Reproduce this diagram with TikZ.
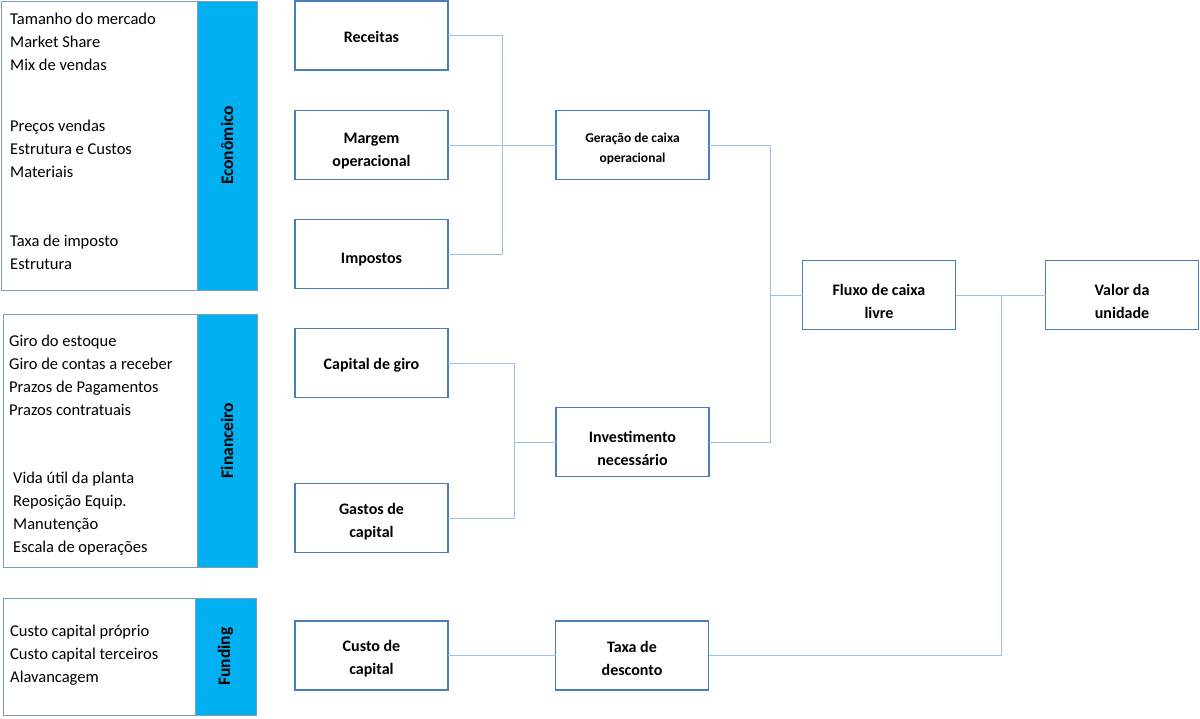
\documentclass[tikz,border=0pt]{standalone}
\usepackage{fontspec}
\setmainfont{Carlito}
\begin{document}
\begin{tikzpicture}[x=1pt,y=-1pt,
  box/.style={draw=boxblue,line width=1.4pt,fill=white,minimum width=153pt,minimum height=69pt,inner sep=0pt,outer sep=0pt},
  btxt/.style={align=center,inner sep=0pt,font=\fontsize{16}{23}\selectfont\bfseries},
  stxt/.style={btxt,font=\fontsize{13.5}{20}\selectfont\bfseries},
  panel/.style={draw=panelgray,line width=0.8pt,fill=white,inner sep=0pt,outer sep=0pt},
  bar/.style={draw=panelgray,line width=0.8pt,fill=barblue,inner sep=0pt,outer sep=0pt},
  barlabel/.style={rotate=90,font=\fontsize{17.5}{20}\selectfont\bfseries},
  list/.style={anchor=north west,align=left,inner sep=0pt,font=\fontsize{16.5}{23}\selectfont},
  conn/.style={draw=lineblue,line width=1pt}]
\definecolor{boxblue}{HTML}{4A7EBB}
\definecolor{lineblue}{HTML}{9BC2E6}
\definecolor{barblue}{HTML}{00B0F0}
\definecolor{panelgray}{HTML}{7F9DB9}
\useasboundingbox (0,0) rectangle (1200,718);
% left panels
\node[panel,minimum width=196pt,minimum height=289pt] (pe) at (99,145.5) {};
\node[bar,minimum width=60pt,minimum height=289pt] (be) at (227,145.5) {};
\node[barlabel] (le) at (be.center) {Econômico};
\node[panel,minimum width=194pt,minimum height=253pt] (pf) at (100,440.5) {};
\node[bar,minimum width=60pt,minimum height=253pt] (bf) at (227,440.5) {};
\node[barlabel] (lf) at (bf.center) {Financeiro};
\node[panel,minimum width=192pt,minimum height=117pt] (pg) at (99,656.5) {};
\node[bar,minimum width=61pt,minimum height=117pt] (bg) at (225.5,656.5) {};
\node[barlabel] (lg) at (bg.center) {Funding};
% lists
\node[list] (t1) at (10,13) {Tamanho do mercado\\Market Share\\Mix de vendas};
\node[list] (t2) at (10,120) {Preços vendas\\Estrutura e Custos\\Materiais};
\node[list] (t3) at (10,235) {Taxa de imposto\\Estrutura};
\node[list] (t4) at (9,335) {Giro do estoque\\Giro de contas a receber\\Prazos de Pagamentos\\Prazos contratuais};
\node[list] (t5) at (13,472) {Vida útil da planta\\Reposição Equip.\\Manutenção\\Escala de operações};
\node[list] (t6) at (10,625) {Custo capital próprio\\Custo capital terceiros\\Alavancagem};
% boxes
\node[box] (rec) at (371.5,35.5) {};
\node[btxt] (recT) at (371.5,36.5) {Receitas};
\node[box] (mar) at (371.5,145) {};
\node[btxt] (marT) at (371.5,151) {Margem\\operacional};
\node[box] (imp) at (371.5,254) {};
\node[btxt] (impT) at (371.5,260) {Impostos};
\node[box] (cap) at (371.5,363) {};
\node[btxt] (capT) at (371.5,365) {Capital de giro};
\node[box] (gas) at (371.5,518) {};
\node[btxt] (gasT) at (371.5,522) {Gastos de\\capital};
\node[box] (cus) at (371.5,655.5) {};
\node[btxt] (cusT) at (371.5,658.5) {Custo de\\capital};
\node[box] (ger) at (632.5,145) {};
\node[stxt] (gerT) at (632.5,148.5) {Geração de caixa\\operacional};
\node[box] (inv) at (632.5,442) {};
\node[btxt] (invT) at (632.5,448) {Investimento\\necessário};
\node[box] (tax) at (632,655.5) {};
\node[btxt] (taxT) at (632,658.5) {Taxa de\\desconto};
\node[box] (flu) at (879,295) {};
\node[btxt] (fluT) at (879,301) {Fluxo de caixa\\livre};
\node[box] (val) at (1122,295) {};
\node[btxt] (valT) at (1122,301) {Valor da\\unidade};
% junctions
\coordinate (j1) at (502,145);
\coordinate (j2) at (514,442);
\coordinate (j3) at (770,295);
\coordinate (j4) at (1001,295);
% connectors
\draw[conn] (rec.east) -| (j1);
\draw[conn] (imp.east) -| (j1);
\draw[conn] (mar.east) -- (ger.west);
\draw[conn] (cap.east) -| (j2);
\draw[conn] (gas.east) -| (j2);
\draw[conn] (j2) -- (inv.west);
\draw[conn] (ger.east) -| (j3);
\draw[conn] (inv.east) -| (j3);
\draw[conn] (j3) -- (flu.west);
\draw[conn] (flu.east) -- (val.west);
\draw[conn] (tax.east) -| (j4);
\draw[conn] (cus.east) -- (tax.west);
\end{tikzpicture}
\end{document}
